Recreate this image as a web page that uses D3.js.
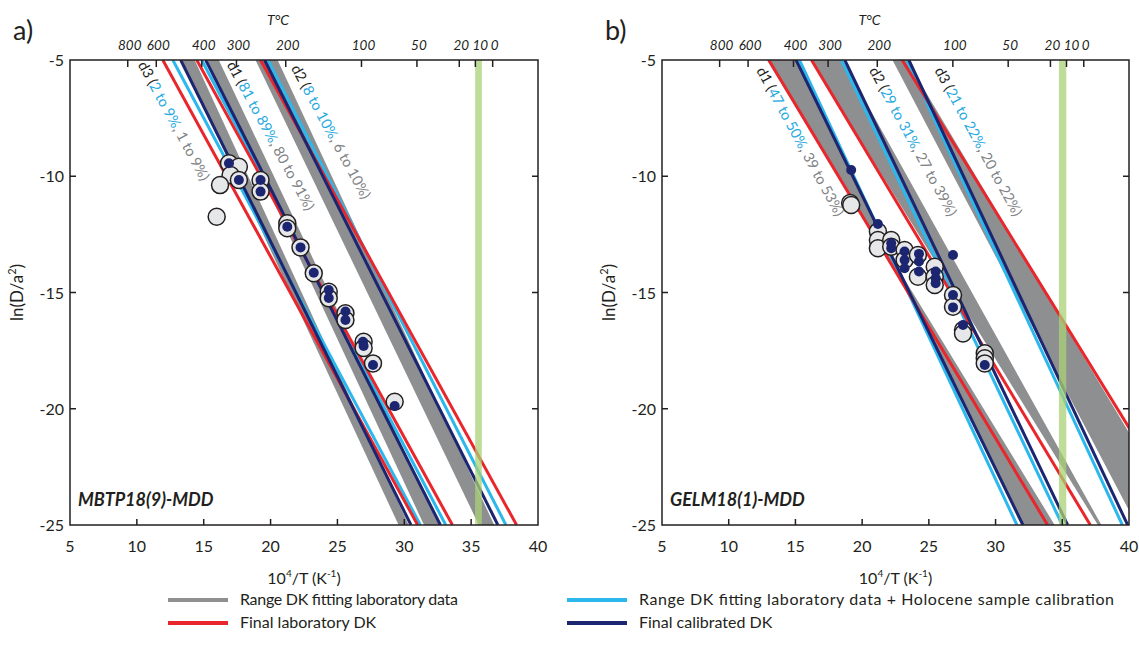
<!DOCTYPE html>
<html>
<head>
<meta charset="utf-8">
<script src="https://cdn.jsdelivr.net/npm/d3@7"></script>
<style>
  body { margin: 0; background: #fff; }
  svg { display: block; }
  text { font-family: Lato, "Open Sans", sans-serif; fill: #231f20; }
</style>
</head>
<body>
<svg id="chart" width="1139" height="663"></svg>
<script>
// ---- axes ----
const xTicks = [10, 15, 20, 25, 30, 35];
const xTickLabels = [5, 10, 15, 20, 25, 30, 35, 40];
const yTicks = [-10, -15, -20];
const yTickLabels = [-5, -10, -15, -20, -25];
const tempTicks = [800, 600, 400, 300, 200, 100, 50, 20, 10, 0];

// ---- Arrhenius lines: [10^4/T at ln(D/a²) = -5, 10^4/T at ln(D/a²) = -25] ----
// gray bands: [edge1 top, edge1 bottom, edge2 top, edge2 bottom]; order d3, d1, d2
const aGrayBands = [[13.5, 29.7, 14.2, 30.2], [15.4, 31.6, 16.0, 32.5], [19.0, 35.7, 20.4, 36.6]];
const aRed  = [[11.94, 31.0], [14.48, 33.6], [19.25, 38.4]];
const aCyan = [[12.69, 31.2], [14.85, 33.1], [19.8, 37.6]];
const aNavy = [[13.28, 30.5], [15.15, 32.7], [19.55, 37.0]];
const aGreen = [35.3, 35.8];

// order d1, d2, d3
const bGrayBands = [[13.0, 34.3, 14.9, 32.2], [16.3, 37.8, 18.4, 37.8], [22.4, 40.7, 23.2, 44.0]];
const bRed  = [[13.0, 33.9], [16.2, 37.1], [23.0, 44.5]];
const bCyan = [[15.3, 31.6], [18.45, 35.0], [23.35, 39.5]];
const bNavy = [[15.05, 32.05], [18.7, 35.4], [23.5, 39.9]];
const bGreen = [34.75, 35.3];

// ---- step-heating data (10^4/T, ln(D/a²)) ----
const aLab = [[16.89,-9.44],[17.63,-9.59],[17.01,-9.95],[17.63,-10.16],[16.22,-10.38],[15.97,-11.74],
  [19.25,-10.16],[19.25,-10.66],[21.25,-12.02],[21.25,-12.24],[22.24,-13.06],[23.23,-14.17],
  [24.35,-14.97],[24.35,-15.25],[25.6,-15.89],[25.6,-16.18],[26.96,-17.12],[26.96,-17.39],
  [27.66,-18.05],[29.28,-19.7]];
const aModel = [[16.89,-9.44],[17.63,-10.16],[19.25,-10.16],[19.25,-10.66],[21.25,-12.17],[22.24,-13.06],
  [23.23,-14.15],[24.35,-14.89],[24.35,-15.24],[25.6,-15.82],[25.6,-16.18],[26.91,-17.12],
  [26.96,-17.3],[27.66,-18.12],[29.28,-19.88]];

const bLab = [[19.1,-11.15],[19.18,-11.24],[21.18,-12.38],[21.18,-12.74],[21.18,-13.10],[22.18,-12.74],
  [22.18,-13.03],[23.18,-13.17],[23.18,-13.6],[24.18,-13.39],[24.18,-14.32],[25.44,-13.89],
  [25.44,-14.32],[25.44,-14.68],[26.81,-15.11],[26.81,-15.61],[27.56,-16.61],[27.56,-16.76],
  [29.19,-17.61],[29.19,-17.83],[29.19,-18.05]];
const bModel = [[19.18,-9.73],[21.18,-12.05],[22.18,-12.88],[22.18,-13.1],[23.18,-13.24],[23.18,-13.6],
  [23.18,-13.96],[24.26,-13.34],[24.26,-13.67],[24.26,-14.1],[25.51,-14.1],[25.51,-14.39],
  [25.51,-14.6],[26.81,-13.39],[26.81,-15.11],[26.81,-15.64],[27.56,-16.4],[29.19,-18.12]];

// ---- domain labels: text segments (black / calibrated / laboratory) and anchor ----
const aLabels = [
  {parts: ["d3 (", "2 to 9%", ", 1 to 9%)"], at: [10.05, -5.2]},
  {parts: ["d1 (", "81 to 89%", ", 80 to 91%)"], at: [16.7, -5.2]},
  {parts: ["d2 (", "8 to 10%", ", 6 to 10%)"], at: [21.5, -5.35]}
];
const bLabels = [
  {parts: ["d1 (", "47 to 50%", ", 39 to 53%)"], at: [12.05, -5.45]},
  {parts: ["d2 (", "29 to 31%", ", 27 to 39%)"], at: [20.5, -5.45]},
  {parts: ["d3 (", "21 to 22%", ", 20 to 22%)"], at: [25.4, -5.45]}
];

const legendItems = [
  ["Range DK fitting laboratory data", "gray", 218],
  ["Final laboratory DK", "red", 0],
  ["Range DK fitting laboratory data + Holocene sample calibration", "cyan", 475],
  ["Final calibrated DK", "navy", 0]
];

const C = {
  gray: "#8e8f91", red: "#e8262b", cyan: "#2cb8ec", navy: "#1c2570",
  green: "#a9d276", labFill: "#e6e7e8", partCols: ["#231f20", "#27a9e1", "#808285"]
};

const svg = d3.select("#chart");
const yScale = d3.scaleLinear().domain([-25, -5]).range([525, 60]);

const panels = [
  {key: "a", range: [70, 538], gray: aGrayBands, red: aRed, cyan: aCyan, navy: aNavy, green: aGreen,
   lab: aLab, model: aModel, labels: aLabels, sample: "MBTP18(9)-MDD", letter: "a)"},
  {key: "b", range: [662, 1129], gray: bGrayBands, red: bRed, cyan: bCyan, navy: bNavy, green: bGreen,
   lab: bLab, model: bModel, labels: bLabels, sample: "GELM18(1)-MDD", letter: "b)"}
];

panels.forEach(p => {
  const x = d3.scaleLinear().domain([5, 40]).range(p.range);
  const y = yScale;
  const [x0, x1] = p.range;
  const [yb, yt] = y.range();
  const g = svg.append("g");

  g.append("clipPath").attr("id", "clip-" + p.key)
    .append("rect").attr("x", x0).attr("y", yt).attr("width", x1 - x0).attr("height", yb - yt);

  const plot = g.append("g").attr("clip-path", `url(#clip-${p.key})`);

  // gray ranges of fitted diffusion kinetics
  plot.selectAll("path.band").data(p.gray).join("path")
    .attr("class", "band")
    .attr("d", b => `M${x(b[0])},${y(-5)}L${x(b[2])},${y(-5)}L${x(b[3])},${y(-25)}L${x(b[1])},${y(-25)}Z`)
    .attr("fill", C.gray).attr("stroke", C.gray).attr("stroke-width", 3).attr("stroke-linejoin", "round");

  const drawLines = (data, col) => {
    plot.append("g").selectAll("line").data(data).join("line")
      .attr("x1", d => x(d[0])).attr("y1", y(-5))
      .attr("x2", d => x(d[1])).attr("y2", y(-25))
      .attr("stroke", col).attr("stroke-width", 3);
  };
  drawLines(p.cyan, C.cyan);
  drawLines(p.red, C.red);
  drawLines(p.navy, C.navy);

  // present-day surface temperature band
  plot.append("rect")
    .attr("x", x(p.green[0])).attr("y", yt)
    .attr("width", x(p.green[1]) - x(p.green[0])).attr("height", yb - yt)
    .attr("fill", C.green).attr("opacity", 0.75);

  // measured steps and model
  plot.append("g").selectAll("circle").data(p.lab).join("circle")
    .attr("cx", d => x(d[0])).attr("cy", d => y(d[1])).attr("r", 8.5)
    .attr("fill", C.labFill).attr("stroke", "#231f20").attr("stroke-width", 1.5);
  plot.append("g").selectAll("circle").data(p.model).join("circle")
    .attr("cx", d => x(d[0])).attr("cy", d => y(d[1])).attr("r", 5)
    .attr("fill", C.navy);

  // frame
  g.append("rect").attr("x", x0).attr("y", yt).attr("width", x1 - x0).attr("height", yb - yt)
    .attr("fill", "none").attr("stroke", "#231f20").attr("stroke-width", 1.5);

  // ticks (inward)
  const tickG = g.append("g").attr("stroke", "#231f20").attr("stroke-width", 1.5);
  xTicks.forEach(v => {
    tickG.append("line").attr("x1", x(v)).attr("x2", x(v)).attr("y1", yb).attr("y2", yb - 6);
  });
  yTicks.forEach(v => {
    tickG.append("line").attr("x1", x0).attr("x2", x0 + 6).attr("y1", y(v)).attr("y2", y(v));
    tickG.append("line").attr("x1", x1).attr("x2", x1 - 6).attr("y1", y(v)).attr("y2", y(v));
  });
  const tx = t => x(1e4 / (t + 273.15));
  tempTicks.forEach(t => {
    tickG.append("line").attr("x1", tx(t)).attr("x2", tx(t)).attr("y1", yt).attr("y2", yt + 7);
  });

  // tick labels
  g.append("g").selectAll("text").data(xTickLabels).join("text")
    .attr("x", d => x(d)).attr("y", yb + 27).attr("text-anchor", "middle")
    .attr("font-size", 16).text(d => d);
  g.append("g").selectAll("text").data(yTickLabels).join("text")
    .attr("x", x0 - 6).attr("y", d => y(d) + 6).attr("text-anchor", "end")
    .attr("font-size", 16).text(d => d);
  g.append("g").selectAll("text").data(tempTicks).join("text")
    .attr("x", d => tx(d) + (d === 10 ? 5 : 2)).attr("y", yt - 10).attr("text-anchor", "middle")
    .attr("font-size", 13.5).attr("font-style", "italic").text(d => d);

  // axis titles
  const cx = (x0 + x1) / 2;
  g.append("text").attr("x", cx - 26).attr("y", 25).attr("text-anchor", "middle")
    .attr("font-size", 14).attr("font-style", "italic").text("T°C");
  const xt = g.append("text").attr("x", cx).attr("y", 584).attr("text-anchor", "middle").attr("font-size", 16);
  xt.append("tspan").text("10");
  xt.append("tspan").attr("font-size", 10).attr("dy", -7).text("4");
  xt.append("tspan").attr("dy", 7).text("/T (K");
  xt.append("tspan").attr("font-size", 10).attr("dy", -7).text("-1");
  xt.append("tspan").attr("dy", 7).text(")");
  const yl = g.append("text").attr("transform", `translate(${x0 - 47},${(yt + yb) / 2}) rotate(-90)`)
    .attr("text-anchor", "middle").attr("font-size", 17);
  yl.append("tspan").text("ln(D/a");
  yl.append("tspan").attr("font-size", 11).attr("dy", -7).text("2");
  yl.append("tspan").attr("dy", 7).text(")");

  // panel letter and sample name
  g.append("text").attr("x", x0 - 57).attr("y", 40).attr("font-size", 27).text(p.letter);
  g.append("text").attr("x", x0 + 8).attr("y", 506).attr("font-size", 18)
    .attr("font-weight", "bold").attr("font-style", "italic").text(p.sample);

  // domain labels along the lines
  p.labels.forEach(l => {
    const t = g.append("text")
      .attr("transform", `translate(${x(l.at[0])},${y(l.at[1])}) rotate(61.5)`)
      .attr("font-size", 14.5);
    l.parts.forEach((s, i) => t.append("tspan").attr("fill", C.partCols[i]).text(s));
  });
});

// legend
const legPos = [[168, 600], [168, 623], [567, 600], [567, 623]];
const leg = svg.append("g");
legendItems.forEach((it, i) => {
  const [lx, ly] = legPos[i];
  leg.append("line").attr("x1", lx).attr("x2", lx + 60).attr("y1", ly).attr("y2", ly)
    .attr("stroke", C[it[1]]).attr("stroke-width", 4);
  const t = leg.append("text").attr("x", lx + 72).attr("y", ly + 5).attr("font-size", 16).text(it[0]);
  if (it[2]) t.attr("textLength", it[2]).attr("lengthAdjust", "spacing");
});
</script>
</body>
</html>
